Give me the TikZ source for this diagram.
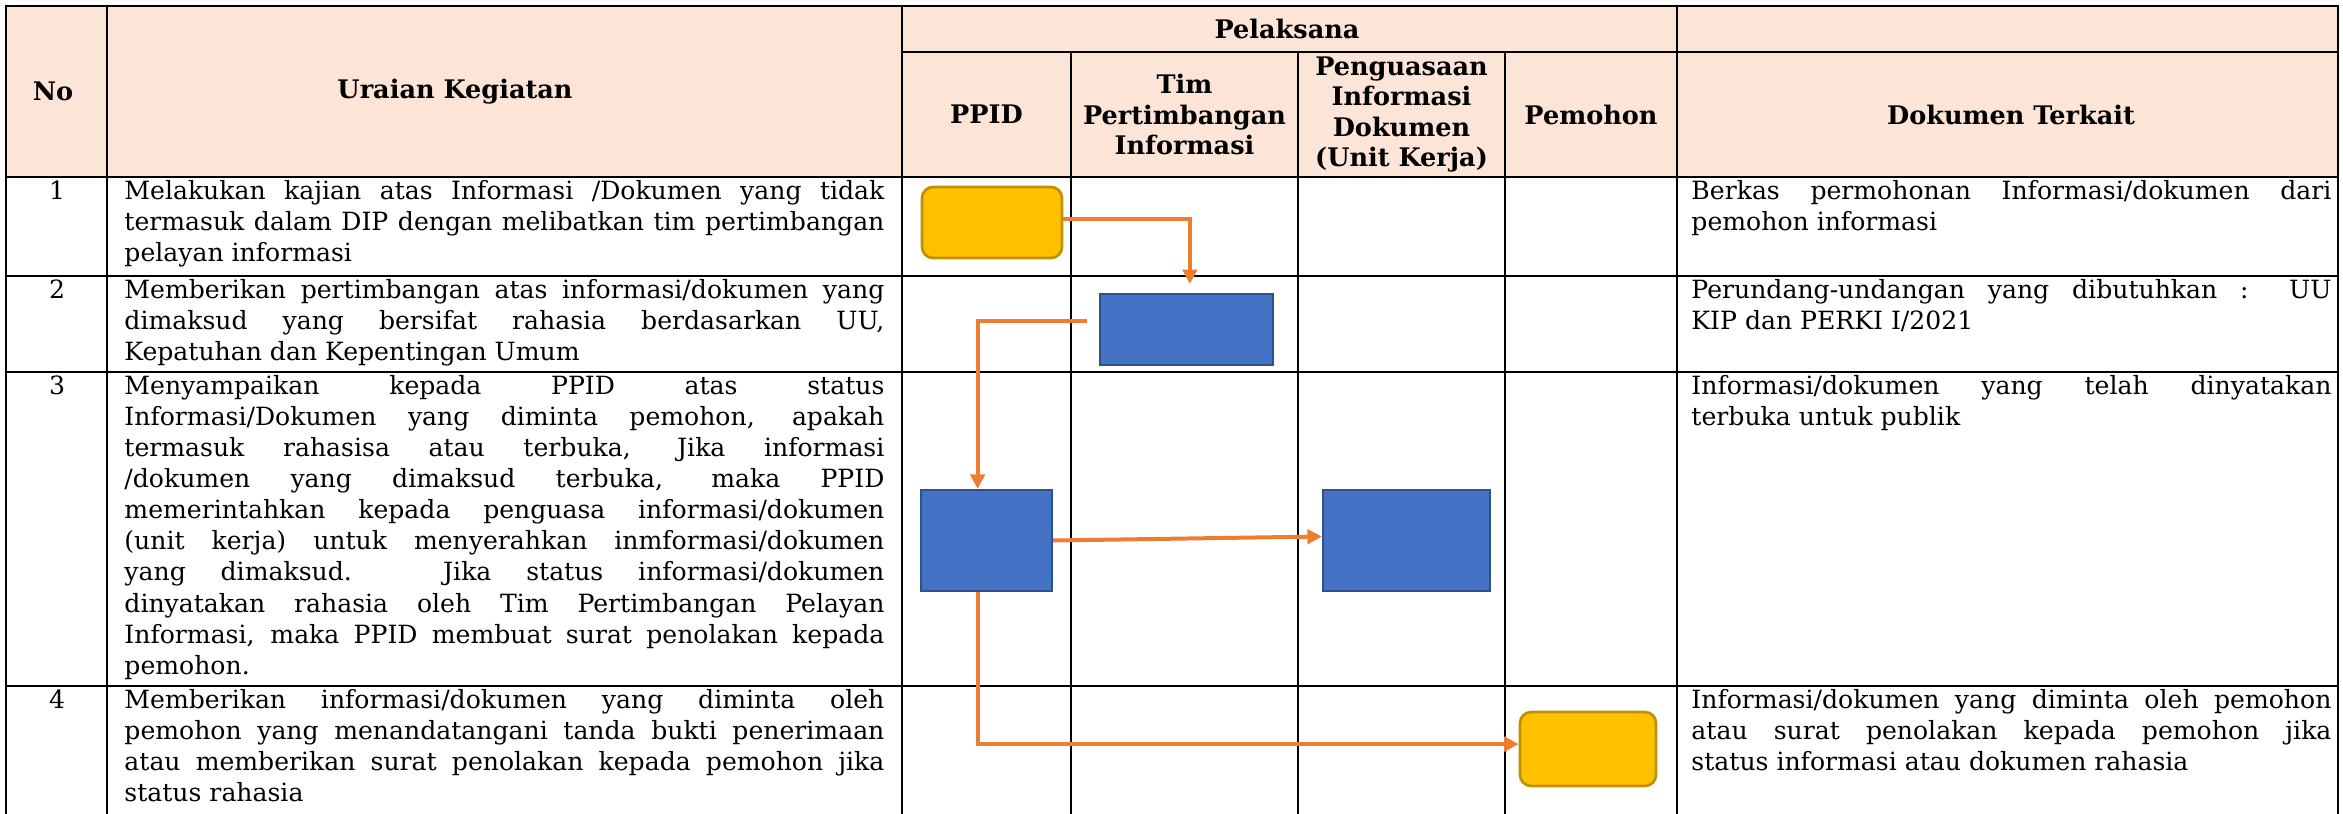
\documentclass[tikz,border=0pt]{standalone}
\usepackage{fontspec}
\setmainfont{DejaVu Serif}
\usetikzlibrary{arrows.meta,calc}
\definecolor{headfill}{HTML}{FCE4D6}
\definecolor{flow}{HTML}{ED7D31}
\definecolor{boxblue}{HTML}{4472C4}
\definecolor{boxblueline}{HTML}{2F528F}
\definecolor{boxgold}{HTML}{FFC000}
\definecolor{boxgoldline}{HTML}{BF9000}
\hyphenpenalty=10000
\exhyphenpenalty=10000
\tolerance=10000
\hbadness=10000

\begin{document}
\begin{tikzpicture}[x=0.45pt,y=-0.45pt,
  gridline/.style={line width=0.9pt,black,line cap=rect},
  headtext/.style={font=\bfseries\fontsize{11.5}{13.6}\selectfont,align=center,inner sep=0pt},
  bodytext/.style={font=\fontsize{11.3}{14}\selectfont,align=justify,inner sep=0pt,anchor=north west},
  activity/.style={bodytext,text width=342pt},
  docs/.style={bodytext,text width=288pt},
  numtext/.style={font=\fontsize{11.3}{14}\selectfont,inner sep=0pt,anchor=north},
  procbox/.style={draw=boxblueline,fill=boxblue,line width=1pt,inner sep=0pt},
  termbox/.style={draw=boxgoldline,fill=boxgold,line width=1.2pt,rounded corners=5pt,inner sep=0pt},
  flowarrow/.style={draw=flow,line width=1.8pt,-{Triangle[length=6.5pt,width=6.5pt]}},
]
\useasboundingbox (0,0) rectangle (2343,813);

% header background
\fill[headfill] (6,6) rectangle (2338,177);

% table rules
\draw[gridline] (6,6) -- (2338,6);
\draw[gridline] (902,52) -- (2338,52);
\draw[gridline] (6,177) -- (2338,177);
\draw[gridline] (6,276) -- (2338,276);
\draw[gridline] (6,372) -- (2338,372);
\draw[gridline] (6,686) -- (2338,686);
\foreach \x in {6,107,902,1677,2338} \draw[gridline] (\x,6) -- (\x,813);
\foreach \x in {1071,1298,1505} \draw[gridline] (\x,52) -- (\x,813);

% header labels
\node[headtext] (hno) at (53,91.5) {No};
\node[headtext] (hur) at (455,91.5) {Uraian Kegiatan};
\node[headtext] (hpel) at (1287,29) {Pelaksana};
\node[headtext] (hppid) at (986.5,114.5) {PPID};
\node[headtext] (htim) at (1184.5,114.5) {Tim\\Pertimbangan\\Informasi};
\node[headtext] (hunit) at (1401.5,114.5) {Penguasaan\\Informasi\\Dokumen\\(Unit Kerja)};
\node[headtext] (hpem) at (1591,114.5) {Pemohon};
\node[headtext] (hdok) at (2011,114.5) {Dokumen Terkait};

% row 1
\node[numtext] (n1) at (57,177) {\strut 1};
\node[activity] (a1) at (124,177) {\strut Melakukan kajian atas Informasi /Dokumen yang tidak\linebreak termasuk dalam DIP dengan melibatkan tim pertimbangan\linebreak pelayan informasi};
\node[docs] (d1) at (1691,177) {\strut Berkas permohonan Informasi/dokumen dari\linebreak pemohon informasi};

% row 2
\node[numtext] (n2) at (57,276) {\strut 2};
\node[activity] (a2) at (124,276) {\strut Memberikan pertimbangan atas informasi/dokumen yang\linebreak dimaksud yang bersifat rahasia berdasarkan UU,\linebreak Kepatuhan dan Kepentingan Umum};
\node[docs] (d2) at (1691,276) {\strut Perundang-undangan yang dibutuhkan : UU\linebreak KIP dan PERKI I/2021};

% row 3
\node[numtext] (n3) at (57,372) {\strut 3};
\node[activity] (a3) at (124,372) {\strut Menyampaikan kepada PPID atas status\linebreak Informasi/Dokumen yang diminta pemohon, apakah\linebreak termasuk rahasisa atau terbuka, Jika informasi\linebreak /dokumen yang dimaksud terbuka, maka PPID\linebreak memerintahkan kepada penguasa informasi/dokumen\linebreak (unit kerja) untuk menyerahkan inmformasi/dokumen\linebreak yang dimaksud. Jika status informasi/dokumen\linebreak dinyatakan rahasia oleh Tim Pertimbangan Pelayan\linebreak Informasi, maka PPID membuat surat penolakan kepada\linebreak pemohon.};
\node[docs] (d3) at (1691,372) {\strut Informasi/dokumen yang telah dinyatakan\linebreak terbuka untuk publik};

% row 4
\node[numtext] (n4) at (57,686) {\strut 4};
\node[activity] (a4) at (124,686) {\strut Memberikan informasi/dokumen yang diminta oleh\linebreak pemohon yang menandatangani tanda bukti penerimaan\linebreak atau memberikan surat penolakan kepada pemohon jika\linebreak status rahasia};
\node[docs] (d4) at (1691,686) {\strut Informasi/dokumen yang diminta oleh pemohon\linebreak atau surat penolakan kepada pemohon jika\linebreak status informasi atau dokumen rahasia};

% flow shapes
\node[termbox,minimum width=63pt,minimum height=32pt] (s1) at (992,222.5) {};
\node[procbox,minimum width=77.9pt,minimum height=32pt] (s2) at (1186.5,329.5) {};
\node[procbox,minimum width=59pt,minimum height=45.5pt] (s3) at (986.5,540.5) {};
\node[procbox,minimum width=75.2pt,minimum height=45.5pt] (s4) at (1406.5,540.5) {};
\node[termbox,minimum width=61.2pt,minimum height=33.3pt] (s5) at (1588,749) {};

% flow connectors
\draw[flowarrow,shorten >=4pt] ([yshift=1.5pt]s1.east) -| ([xshift=1.5pt]s2.north);
\draw[flowarrow] ([xshift=-5.4pt,yshift=3.8pt]s2.west) -| ([xshift=-4pt]s3.north);
\draw[flowarrow] (s3.east) -- ([yshift=1.8pt]s4.west);
\draw[flowarrow] ([xshift=-4pt]s3.south) |- ([yshift=2.2pt]s5.west);
\end{tikzpicture}
\end{document}
